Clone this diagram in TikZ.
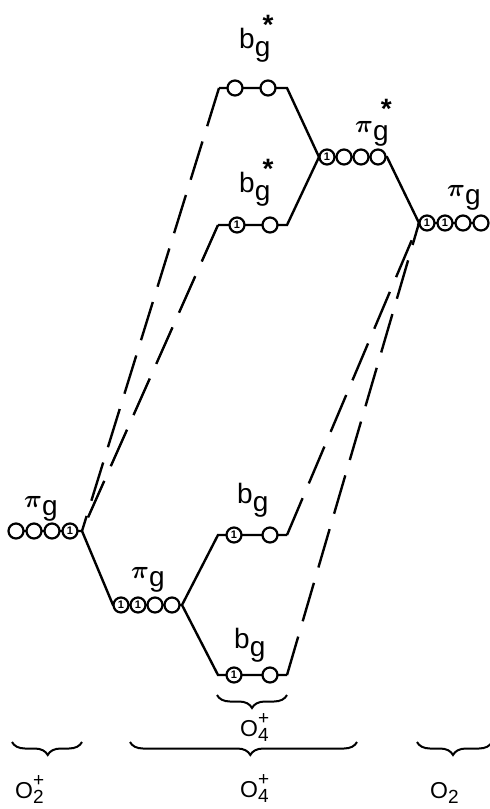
\documentclass[tikz,border=0pt]{standalone}
\usepackage{fontspec}
\setmainfont{Liberation Sans}
\usetikzlibrary{decorations.pathreplacing}
\newcommand\lv[3]{#1\raisebox{-0.3em}{#2}\kern-0.28em\raisebox{0.5em}{\bfseries #3}}
\newcommand\mpi{{\boldmath$\pi$}}
\newcommand\olab[2]{O\rlap{\raisebox{0.5em}{\fontsize{19}{19}\selectfont #2}}\raisebox{-0.25em}{\fontsize{19}{19}\selectfont #1}}
\begin{document}
\begin{tikzpicture}[x=1pt,y=-1pt,
  lvl/.style={line width=2.4pt},
  dsh/.style={line width=2.4pt, dash pattern=on 40pt off 16pt},
  orb/.style={circle,draw,line width=2.2pt,fill=white,minimum size=15pt,inner sep=0pt,font=\fontsize{11}{11}\selectfont\bfseries},
  lab/.style={font=\fontsize{28}{32}\selectfont, inner sep=0pt, anchor=base west},
  olb/.style={font=\fontsize{23}{26}\selectfont, inner sep=0pt, anchor=base west},
  brc/.style={decorate,decoration={brace,mirror,amplitude=13pt,aspect=#1},line width=2pt},
  brc/.default=0.5]
\useasboundingbox (0,0) rectangle (490,809);

% ---------- coordinates of level ends
\coordinate (al) at (16,531);  \coordinate (ar) at (82,531);
\coordinate (bl) at (113,605); \coordinate (br) at (182,605);
\coordinate (cl) at (218,535); \coordinate (cr) at (287,535);
\coordinate (dl) at (218,675); \coordinate (dr) at (287,675);
\coordinate (el) at (218,225); \coordinate (er) at (287,225);
\coordinate (fl) at (219,88);  \coordinate (fr) at (287,88);
\coordinate (gl) at (319,157); \coordinate (gr) at (387,157);
\coordinate (hl) at (419,223); \coordinate (hr) at (485,223);

% ---------- dashed correlation lines
\draw[dsh] (fl) -- (ar);
\draw[dsh] (el) -- (ar);
\draw[dsh] (cr) -- (hl);
\draw[dsh] (dr) -- (hl);

% ---------- solid level lines and connectors
\draw[lvl] (al) -- (ar) -- (bl) -- (br) -- (cl) -- (cr);
\draw[lvl] (br) -- (dl) -- (dr);
\draw[lvl] (el) -- (er) -- (gl);
\draw[lvl] (fl) -- (fr) -- (gl) -- (gr) -- (hl) -- (hr);

% ---------- orbitals
% O2+ pi_g
\node[orb] (a1) at (16,531) {};
\node[orb] (a2) at (34,531) {};
\node[orb] (a3) at (52,531) {};
\node[orb] (a4) at (70,531) {1};
% O4+ pi_g
\node[orb] (b1) at (121,605) {1};
\node[orb] (b2) at (138,605) {1};
\node[orb] (b3) at (155,605) {};
\node[orb] (b4) at (172,605) {};
% O4+ b_g upper
\node[orb] (c1) at (234,535) {1};
\node[orb] (c2) at (270,535) {};
% O4+ b_g lower
\node[orb] (d1) at (234,675) {1};
\node[orb] (d2) at (270,675) {};
% O4+ b_g* lower
\node[orb] (e1) at (237,225) {1};
\node[orb] (e2) at (270,225) {};
% O4+ b_g* upper
\node[orb] (f1) at (235,88) {};
\node[orb] (f2) at (268,88) {};
% O4+ pi_g*
\node[orb] (g1) at (327,157) {1};
\node[orb] (g2) at (344,157) {};
\node[orb] (g3) at (361,157) {};
\node[orb] (g4) at (378,157) {};
% O2 pi_g
\node[orb] (h1) at (427,223) {1};
\node[orb] (h2) at (445,223) {1};
\node[orb] (h3) at (463,223) {};
\node[orb] (h4) at (481,223) {};

% ---------- level labels
\node[lab] (ta) at (24,507) {\lv{\mpi}{g}{}};
\node[lab] (tb) at (131,578) {\lv{\mpi}{g}{}};
\node[lab] (tc) at (237,503) {\lv{b}{g}{}};
\node[lab] (td) at (234,648) {\lv{b}{g}{}};
\node[lab] (te) at (239,192) {\lv{b}{g}{*}};
\node[lab] (tf) at (239,48) {\lv{b}{g}{*}};
\node[lab] (tg) at (355,132) {\lv{\mpi}{g}{*}};
\node[lab] (th) at (447,196) {\lv{\mpi}{g}{}};

% ---------- braces
\coordinate (s1) at (217,695); \coordinate (s2) at (287,695);
\draw[brc=0.5] (s1) -- (s2);
\coordinate (p1) at (12,742);  \coordinate (p2) at (82,742);
\draw[brc=0.51] (p1) -- (p2);
\coordinate (q1) at (130,742); \coordinate (q2) at (357,742);
\draw[brc=0.53] (q1) -- (q2);
\coordinate (r1) at (417,742); \coordinate (r2) at (492,742);
\draw[brc=0.48] (r1) -- (r2);

% ---------- molecule labels
\node[olb] (m0) at (240,736) {\olab{4}{+}};
\node[olb] (m1) at (15,798) {\olab{2}{+}};
\node[olb] (m2) at (240,797) {\olab{4}{+}};
\node[olb] (m3) at (430,798) {\olab{2}{}};
\end{tikzpicture}
\end{document}
